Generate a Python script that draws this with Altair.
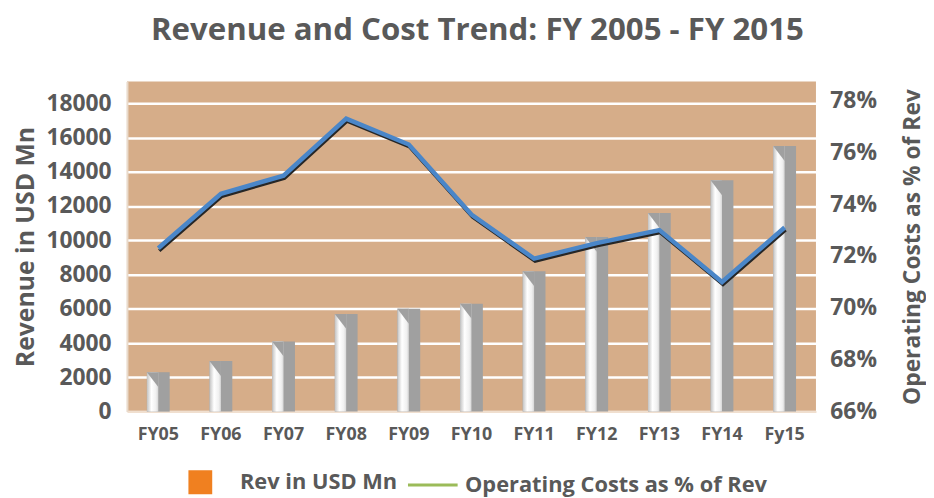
import altair as alt
import pandas as pd

years = ["FY05", "FY06", "FY07", "FY08", "FY09", "FY10", "FY11", "FY12", "FY13", "FY14", "Fy15"]
revenue = [2300, 2950, 4100, 5700, 6000, 6300, 8200, 10200, 11600, 13500, 15500]
op_cost_pct = [72.3, 74.4, 75.1, 77.3, 76.3, 73.6, 71.9, 72.5, 73.0, 71.0, 73.1]
left_ticks = [0, 2000, 4000, 6000, 8000, 10000, 12000, 14000, 16000, 18000]
right_ticks = [66, 68, 70, 72, 74, 76, 78]
legend_labels = ["Rev in USD Mn", "Operating Costs as % of Rev"]
legend_fills = ["#F08020", "transparent"]
legend_strokes = ["#F08020", "#9BBB59"]
legend_shapes = ["M-1,-1L1,-1L1,1L-1,1Z", "M-1.67,0L3.1,0"]

df = pd.DataFrame({"yr": years, "rev": revenue, "pct": op_cost_pct})
leg_df = pd.DataFrame({"yr": [years[0], years[0]], "rev": [-9000, -9000], "series": legend_labels})

TEXT = "#595959"
FONT = "Open Sans"
BG = "#D6AD89"
GRAY = "#A0A0A0"

x = alt.X("yr:N", sort=years,
          scale=alt.Scale(paddingInner=0, paddingOuter=0),
          axis=alt.Axis(title=None, labelAngle=0, ticks=False, domain=True,
                        domainColor="#F0DFCF", domainWidth=2,
                        labelFont=FONT, labelFontSize=18, labelFontWeight="bold",
                        labelColor=TEXT, labelPadding=14))

y_left = alt.Y("rev:Q", scale=alt.Scale(domain=[0, 19270], nice=False),
               axis=alt.Axis(values=left_ticks, format="d", title="Revenue in USD Mn",
                             grid=True, gridColor="white", gridWidth=2.5,
                             ticks=False, domain=True, domainColor="#E9DACB", domainWidth=2,
                             labelFont=FONT, labelFontSize=23, labelFontWeight="bold",
                             labelColor=TEXT, labelPadding=16,
                             titleFont=FONT, titleFontSize=25, titleFontWeight="bold",
                             titleColor=TEXT, titlePadding=8))

y_right = alt.Y("pct:Q", scale=alt.Scale(domain=[66, 78.73], nice=False, zero=False),
                axis=alt.Axis(orient="right", values=right_ticks, labelExpr="datum.value + '%'",
                              title="Operating Costs as % of Rev", titleAngle=270,
                              grid=False, ticks=False, domain=False,
                              labelFont=FONT, labelFontSize=23, labelFontWeight="bold",
                              labelColor=TEXT, labelPadding=14,
                              titleFont=FONT, titleFontSize=23, titleFontWeight="bold",
                              titleColor=TEXT, titlePadding=48))

base = alt.Chart(df)

gray_bar = base.mark_bar(size=23, color=GRAY).encode(x=x, y=y_left)
white_bar = base.mark_bar(
    size=11.5, xOffset=-5.75,
    color=alt.Gradient(gradient="linear", x1=0, x2=1, y1=0, y2=0,
                       stops=[alt.GradientStop(color="#C2C2C2", offset=0),
                              alt.GradientStop(color="#FFFFFF", offset=0.4),
                              alt.GradientStop(color="#F0F0F0", offset=0.8),
                              alt.GradientStop(color="#D6D6D6", offset=1)])
).encode(x=x, y=y_left)
tri = base.mark_point(shape="M-1.533,0L0,0L0,2Z", size=225, filled=True, color=GRAY,
                      opacity=1, strokeWidth=0).encode(x=x, y=y_left)

legend = alt.Legend(orient="none", legendX=62, legendY=392, direction="horizontal",
                    title=None, padding=0, labelLimit=500,
                    labelFont=FONT, labelFontSize=22, labelFontWeight="bold",
                    labelColor=TEXT, symbolSize=441, symbolStrokeWidth=3, symbolOpacity=1,
                    labelOffset=28, columnPadding=4)

leg = alt.Chart(leg_df).mark_point(clip=True, filled=False, strokeWidth=3, opacity=1).encode(
    x=x, y=y_left,
    fill=alt.Fill("series:N", sort=legend_labels,
                  scale=alt.Scale(domain=legend_labels, range=legend_fills), legend=legend),
    stroke=alt.Stroke("series:N", sort=legend_labels,
                      scale=alt.Scale(domain=legend_labels, range=legend_strokes), legend=legend),
    shape=alt.Shape("series:N", sort=legend_labels,
                    scale=alt.Scale(domain=legend_labels, range=legend_shapes), legend=legend),
)

shadow = base.mark_line(color="#262626", strokeWidth=3.5, xOffset=1, yOffset=2.5).encode(x=x, y=y_right)
blue = base.mark_line(color="#4A86C8", strokeWidth=4.5).encode(x=x, y=y_right)

left_group = alt.layer(gray_bar, white_bar, tri, leg)
right_group = alt.layer(shadow, blue)

chart = alt.layer(left_group, right_group).resolve_scale(y="independent").properties(
    width=695, height=333,
    background="white",
    padding={"left": 120, "top": 72, "right": 111, "bottom": 85},
    autosize=alt.AutoSizeParams(type="none"),
    title=alt.TitleParams("Revenue and Cost Trend: FY 2005 - FY 2015", font=FONT, fontSize=31.5,
                          fontWeight="bold", color=TEXT, anchor="middle", offset=35, dx=6),
).configure_view(fill=BG, stroke=None)

chart.save("out.html", embed_options={"renderer": "svg", "actions": False})
